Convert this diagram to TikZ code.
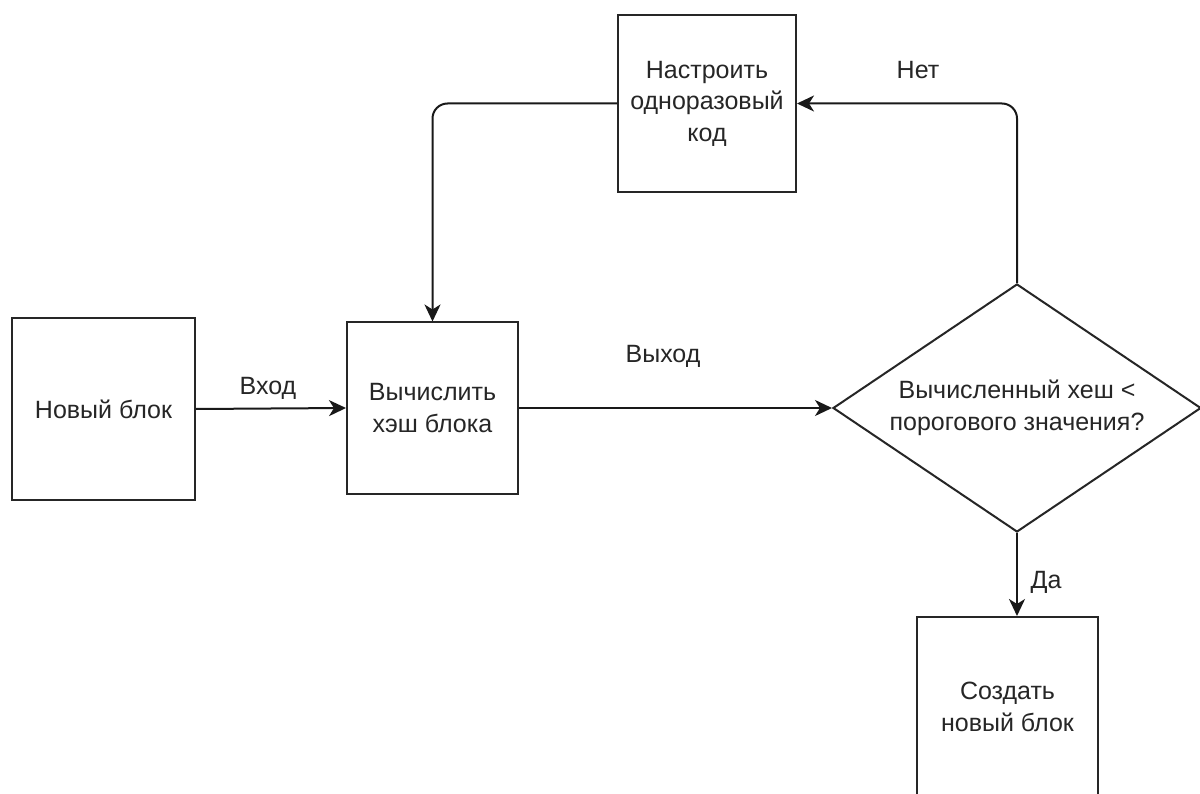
\documentclass[tikz,border=0pt]{standalone}
\usepackage{fontspec}
\setmainfont{Liberation Sans}
\usetikzlibrary{shapes.geometric,arrows.meta}
\begin{document}
\begin{tikzpicture}[x=1pt,y=-1pt,
  every node/.style={font=\fontsize{25}{31.5}\selectfont, text=black!85},
  box/.style={draw=black!85, line width=2pt, rectangle, inner sep=0pt, align=center},
  decision/.style={draw=black!85, line width=2pt, diamond, inner sep=0pt, align=center,
    minimum width=368pt, minimum height=248pt, aspect=1.48},
  conn/.style={draw=black!90, line width=2pt, rounded corners=15pt,
    -{Stealth[length=17pt,width=16pt,inset=5pt]}},
  lbl/.style={inner sep=0pt}]
\useasboundingbox (0,0) rectangle (1200,794);
\fill[white] (0,0) rectangle (1200,794);

\node[box, minimum width=183pt, minimum height=182pt] (new) at (103.5,409) {Новый блок};
\node[box, minimum width=171pt, minimum height=171pt] (calc) at (432.5,408) {Вычислить\\хэш блока};
\node[box, minimum width=178pt, minimum height=177pt] (nonce) at (707,103.5) {Настроить\\одноразовый\\код};
\node[decision] (q) at (1017,408) {Вычисленный хеш <\\порогового значения?};
\node[box, minimum width=181pt, minimum height=180pt] (create) at (1007.5,707) {Создать\\новый блок};

\draw[conn] (new.east) -- (calc.west);
\draw[conn] (calc.east) -- (q.west);
\draw[conn] (q.north) |- (nonce.east);
\draw[conn] (nonce.west) -| (calc.north);
\draw[conn] (q.south) -- (q.south |- create.north);

\node[lbl] (lin) at (268,388) {Вход};
\node[lbl] (lout) at (663,356) {Выход};
\node[lbl] (lno) at (918,70) {Нет};
\node[lbl] (lyes) at (1046,582) {Да};
\end{tikzpicture}
\end{document}
